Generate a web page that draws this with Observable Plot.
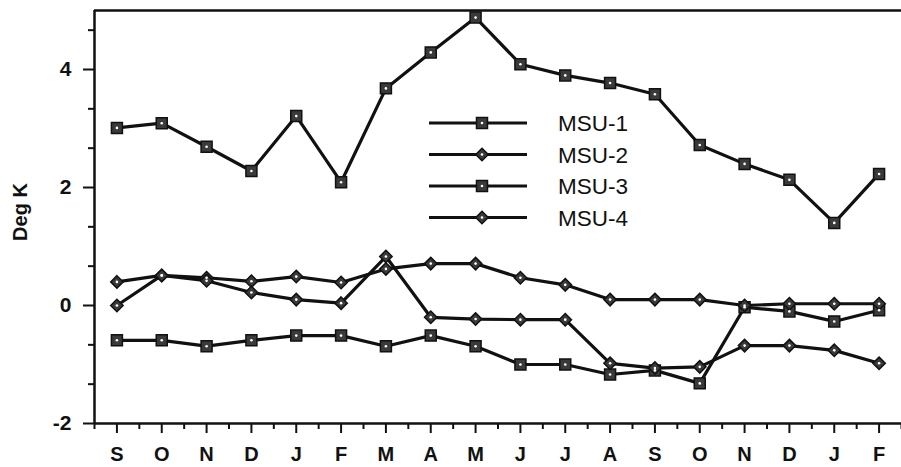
<!DOCTYPE html>
<html><head><meta charset="utf-8">
<script src="https://cdn.jsdelivr.net/npm/d3@7"></script>
<script src="https://cdn.jsdelivr.net/npm/@observablehq/plot@0.6"></script>
<style>body{margin:0;background:#fff;} #chart{width:901px;height:467px;}</style>
</head><body><div id="chart"></div>
<script>
// ---- data ----
const months = ["S","O","N","D","J","F","M","A","M","J","J","A","S","O","N","D","J","F"];
const seriesNames = ["MSU-1","MSU-2","MSU-3","MSU-4"];
const seriesSymbols = ["square","diamond2","square","diamond2"];
const msu1 = [3.01,3.09,2.69,2.28,3.21,2.09,3.68,4.29,4.88,4.09,3.90,3.77,3.58,2.72,2.40,2.13,1.40,2.23];
const msu2 = [0.40,0.51,0.47,0.41,0.49,0.39,0.62,0.71,0.71,0.47,0.35,0.10,0.10,0.10,0.00,0.03,0.03,0.03];
const msu3 = [-0.59,-0.59,-0.69,-0.59,-0.51,-0.51,-0.69,-0.51,-0.69,-1.00,-1.00,-1.17,-1.10,-1.32,-0.03,-0.10,-0.27,-0.08];
const msu4 = [0.00,0.51,0.42,0.22,0.10,0.04,0.83,-0.20,-0.23,-0.24,-0.24,-0.98,-1.06,-1.04,-0.68,-0.68,-0.76,-0.98];
const yTicks = [-2,0,2,4];
const yTickLabels = ["-2","0","2","4"];
const yMinorTicks = [-4/3,-2/3,2/3,4/3,8/3,10/3,14/3];
const yLabel = "Deg K";
const xDomain = [-0.5, 17.5];
const yDomain = [-2, 5];

// ---- build table ----
const allSeries = [msu1, msu2, msu3, msu4];
const rows = [];
allSeries.forEach((vals, s) => vals.forEach((v, i) => rows.push({series: seriesNames[s], symbol: seriesSymbols[s], i, v})));
const xMajor = d3.range(months.length);
const xMinor = d3.range(months.length + 1).map(i => i - 0.5);

const INK = "#111";
const MARK_FILL = "#3a3a3a";
const FONT = "'Liberation Sans', Arial, Helvetica, sans-serif";
const SQ_R = 6.2, DI_R = 5.6;

function overlayMark(index, scales, values, dims) {
  const g = d3.create("svg:g").attr("font-family", FONT).attr("fill", INK);
  // y axis title
  g.append("text")
    .attr("transform", `translate(${dims.marginLeft - 74},${dims.marginTop + 202}) rotate(-90)`)
    .attr("text-anchor", "middle").attr("dy", "0.36em")
    .style("font-size", "20px").attr("font-weight", "bold").text(yLabel);
  // legend
  seriesNames.forEach((name, k) => {
    const y = dims.marginTop + 113 + k * 31.5;
    const x0 = dims.marginLeft + 335;
    g.append("line").attr("x1", x0).attr("x2", x0 + 98).attr("y1", y).attr("y2", y)
      .attr("stroke", INK).attr("stroke-width", 3);
    const isSq = seriesSymbols[k] === "square";
    const r = isSq ? SQ_R : DI_R;
    g.append("path").attr("transform", `translate(${x0 + 53},${y})`)
      .attr("d", d3.symbol(isSq ? d3.symbolSquare : d3.symbolDiamond2, r * r * Math.PI)())
      .attr("fill", MARK_FILL).attr("stroke", INK).attr("stroke-width", 1.5);
    g.append("circle").attr("cx", x0 + 53).attr("cy", y).attr("r", 1.3).attr("fill", "#fff");
    g.append("text").attr("x", dims.marginLeft + 464).attr("y", y).attr("dy", "0.36em")
      .attr("text-anchor", "start")
      .style("font-size", "22.5px").text(name);
  });
  return g.node();
}

const chart = Plot.plot({
  width: 901,
  height: 467,
  marginLeft: 94,
  marginRight: 0,
  marginTop: 10,
  marginBottom: 44,
  style: {fontFamily: FONT, background: "#fff", color: INK},
  x: {type: "linear", domain: xDomain, axis: null},
  y: {domain: yDomain, axis: null},
  marks: [
    // axes
    Plot.axisY(yTicks, {tickSize: 11, tickPadding: 12, fontSize: 21, fontWeight: "bold", strokeWidth: 2, label: null,
      tickFormat: d => yTickLabels[yTicks.indexOf(d)]}),
    Plot.axisY(yMinorTicks, {tickSize: 6, text: null, strokeWidth: 2, label: null}),
    Plot.axisX(xMajor, {tickSize: 10, tickPadding: 13, fontSize: 20, fontWeight: "bold", tickFormat: i => months[i], strokeWidth: 2, label: null}),
    Plot.axisX(xMinor, {tickSize: 6, text: null, strokeWidth: 2, label: null}),
    Plot.ruleX([xDomain[0]], {stroke: INK, strokeWidth: 2.5}),
    Plot.ruleY([yDomain[0]], {stroke: INK, strokeWidth: 2.5}),
    Plot.ruleY([yDomain[1]], {stroke: INK, strokeWidth: 2.5}),
    // series
    Plot.line(rows, {x: "i", y: "v", z: "series", stroke: INK, strokeWidth: 3.2}),
    Plot.dot(rows.filter(d => d.symbol === "square"), {x: "i", y: "v", symbol: "square", r: SQ_R, fill: MARK_FILL, stroke: INK, strokeWidth: 1.5}),
    Plot.dot(rows.filter(d => d.symbol === "diamond2"), {x: "i", y: "v", symbol: "diamond2", r: DI_R, fill: MARK_FILL, stroke: INK, strokeWidth: 1.5}),
    Plot.dot(rows, {x: "i", y: "v", r: 1.3, fill: "#fff"}),
    overlayMark
  ]
});
document.getElementById("chart").appendChild(chart);
</script>
</body></html>
